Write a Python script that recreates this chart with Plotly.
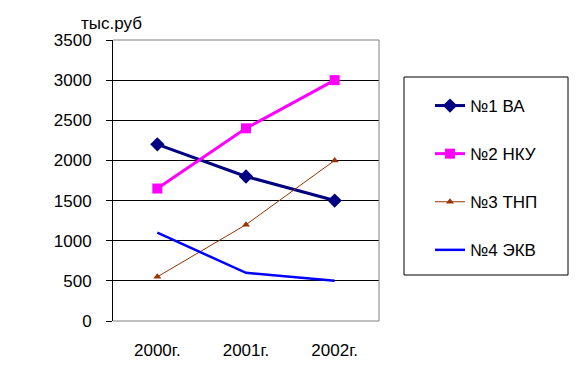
import plotly.graph_objects as go

years = ["2000г.", "2001г.", "2002г."]
va = [2200, 1800, 1500]
nku = [1650, 2400, 3000]
tnp = [550, 1200, 2000]
ekv = [1100, 600, 500]
series_names = ["№1 ВА", "№2 НКУ", "№3 ТНП", "№4 ЭКВ"]
y_ticks = [0, 500, 1000, 1500, 2000, 2500, 3000, 3500]
y_title = "тыс.руб"

FONT = "Liberation Sans, Arial, sans-serif"
FS = 17
W, H = 580, 372
OFF = 8  # page body margin offset
# desired screen positions
PL, PR, PT, PB = 113, 379, 40, 321
L, T = PL - OFF, PT - OFF
R = W - (PR - OFF)
B = H - (PB - OFF)
pw = PR - PL
ph = PB - PT


def px(sx):
    return (sx - PL) / pw


def py(sy):
    return (PB - sy) / ph


fig = go.Figure()
fig.add_trace(go.Scatter(x=years, y=va, name=series_names[0], mode="lines+markers",
                         line=dict(color="#000080", width=3),
                         marker=dict(symbol="diamond", size=11, color="#000080"),
                         legendgroup="a"))
fig.add_trace(go.Scatter(x=years, y=nku, name=series_names[1], mode="lines+markers",
                         line=dict(color="#FF00FF", width=3),
                         marker=dict(symbol="square", size=10, color="#FF00FF"),
                         legendgroup="b"))
fig.add_trace(go.Scatter(x=years, y=tnp, name=series_names[2], mode="lines+markers",
                         line=dict(color="#993300", width=1),
                         marker=dict(symbol="triangle-up", size=7, color="#993300"),
                         legendgroup="c"))
fig.add_trace(go.Scatter(x=years, y=ekv, name=series_names[3], mode="lines",
                         line=dict(color="#0000FF", width=2.5),
                         legendgroup="d"))

fig.update_layout(
    width=W, height=H,
    margin=dict(l=L, r=R, t=T, b=B, pad=0, autoexpand=False),
    paper_bgcolor="white", plot_bgcolor="white",
    font=dict(family=FONT, size=FS, color="black"),
    showlegend=True,
    legend=dict(
        x=px(430), y=py(88), xanchor="left", yanchor="top",
        bgcolor="rgba(0,0,0,0)", borderwidth=0,
        font=dict(family=FONT, size=FS, color="black"),
        tracegroupgap=23, itemwidth=30,
    ),
    xaxis=dict(
        type="category", range=[-0.5, 2.5], showgrid=False, showline=False,
        zeroline=False, ticks="", ticklabelstandoff=17,
        tickfont=dict(family=FONT, size=FS, color="black"),
    ),
    yaxis=dict(
        range=[0, 3500], tickvals=y_ticks, showgrid=True, gridcolor="black", gridwidth=1,
        zeroline=False, showline=True, linecolor="black", linewidth=1,
        ticks="outside", ticklen=6, tickcolor="black", ticklabelstandoff=11,
        tickfont=dict(family=FONT, size=FS, color="black"),
    ),
    shapes=[
        dict(type="line", xref="paper", yref="paper", x0=0, x1=1, y0=1, y1=1,
             line=dict(color="#808080", width=1), layer="above"),
        dict(type="line", xref="paper", yref="paper", x0=1, x1=1, y0=0, y1=1,
             line=dict(color="#808080", width=1), layer="above"),
        dict(type="line", xref="paper", yref="paper", x0=0, x1=1, y0=0, y1=0,
             line=dict(color="#808080", width=1), layer="above"),
        dict(type="rect", xref="paper", yref="paper",
             x0=px(404), x1=px(568), y0=py(275), y1=py(77),
             line=dict(color="black", width=1)),
    ],
    annotations=[
        dict(text=y_title, xref="paper", yref="paper", x=px(111), y=py(23),
             xanchor="center", yanchor="middle", showarrow=False,
             font=dict(family=FONT, size=FS, color="black")),
    ],
)

fig.write_html("out.html")
